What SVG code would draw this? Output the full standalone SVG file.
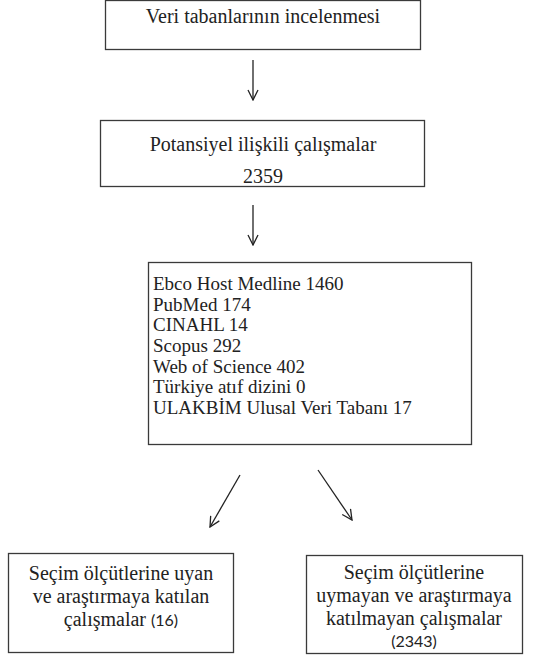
<svg xmlns="http://www.w3.org/2000/svg" width="540" height="658" viewBox="0 0 540 658">
<defs>
<style>
.box{fill:#fff;stroke:#3a3a3a;stroke-width:1.3}
text{font-family:'Liberation Serif','Times New Roman',Times,serif;font-size:20px;fill:#222}
.l{font-size:19px}
.s{font-family:Lato,'Liberation Sans',sans-serif;font-size:16px}
.c{text-anchor:middle}
.ln{stroke:#222;stroke-width:1.3;fill:none}
</style>
<marker id="ah" viewBox="0 0 12 12" refX="11" refY="6" markerWidth="12" markerHeight="12" markerUnits="userSpaceOnUse" orient="auto">
<path d="M1,1 L11,6 L1,11" fill="none" stroke="#222" stroke-width="1.3"/>
</marker>
</defs>
<rect width="540" height="658" fill="#fff"/>
<g id="n1"><rect class="box" x="105.5" y="0.5" width="315" height="49"/>
<text class="c" x="263" y="23">Veri tabanlarının incelenmesi</text></g>
<g id="n2"><rect class="box" x="100.5" y="120.5" width="324" height="66"/>
<text class="c" x="263" y="151">Potansiyel ilişkili çalışmalar</text>
<text class="c" x="263" y="183">2359</text></g>
<g id="n3"><rect class="box" x="148.5" y="262.5" width="323" height="182"/>
<text class="l" x="153" y="290">Ebco Host Medline 1460</text>
<text class="l" x="153" y="311">PubMed 174</text>
<text class="l" x="153" y="331">CINAHL 14</text>
<text class="l" x="153" y="352">Scopus 292</text>
<text class="l" x="153" y="373">Web of Science 402</text>
<text class="l" x="153" y="393">Türkiye atıf dizini 0</text>
<text class="l" x="153" y="414">ULAKBİM Ulusal Veri Tabanı 17</text></g>
<g id="n4"><rect class="box" x="8.5" y="553.5" width="225" height="99"/>
<text class="c" x="121" y="580">Seçim ölçütlerine uyan</text>
<text class="c" x="121" y="603">ve araştırmaya katılan</text>
<text class="c" x="121" y="626">çalışmalar <tspan class="s">(16)</tspan></text></g>
<g id="n5"><rect class="box" x="306.5" y="555.5" width="216" height="98"/>
<text class="c" x="414" y="579">Seçim ölçütlerine</text>
<text class="c" x="414" y="602">uymayan ve araştırmaya</text>
<text class="c" x="414" y="625">katılmayan çalışmalar</text>
<text class="s c" x="414" y="647">(2343)</text></g>
<g id="edges">
<line class="ln" x1="253" y1="60" x2="253" y2="100" marker-end="url(#ah)"/>
<line class="ln" x1="253" y1="205" x2="253" y2="245" marker-end="url(#ah)"/>
<line class="ln" x1="240" y1="475" x2="210" y2="527" marker-end="url(#ah)"/>
<line class="ln" x1="318" y1="470" x2="352" y2="520" marker-end="url(#ah)"/>
</g>
</svg>
